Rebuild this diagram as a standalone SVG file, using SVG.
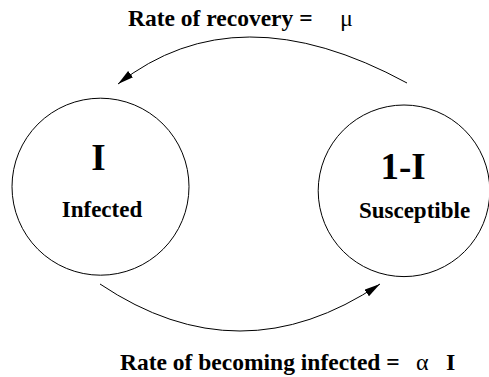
<svg xmlns="http://www.w3.org/2000/svg" width="489" height="377" viewBox="0 0 489 377">
<style>
.c{fill:none;stroke:#000;stroke-width:1}
text{font-family:'Liberation Serif','DejaVu Serif',Times,serif;fill:#000}
.t{font-weight:bold}
.s{font-weight:normal}
</style>
<defs>
<marker id="ah" markerUnits="userSpaceOnUse" markerWidth="18" markerHeight="10" refX="16" refY="4" orient="auto">
<path d="M0,0 L16,4 L0,8 z" fill="#000"/>
</marker>
</defs>
<rect width="489" height="377" fill="#fff"/>
<g id="connectors">
<path class="c" d="M407,83 Q237,-9.5 118,84" marker-end="url(#ah)"/>
<path class="c" d="M100,284 Q240,378 380,284" marker-end="url(#ah)"/>
</g>
<g id="infected">
<circle class="c" cx="100.5" cy="186.7" r="88.5"/>
<text class="t" x="98.5" y="170" font-size="37" text-anchor="middle">I</text>
<text class="t" x="102" y="217" font-size="23" text-anchor="middle">Infected</text>
</g>
<g id="susceptible">
<circle class="c" cx="404" cy="190.8" r="85.8"/>
<text class="t" x="403" y="179" font-size="37" text-anchor="middle">1-I</text>
<text class="t" x="414.5" y="217.5" font-size="23" text-anchor="middle">Susceptible</text>
</g>
<g id="labels">
<text class="t" x="128" y="26" font-size="23.5">Rate of recovery =</text>
<text class="s" x="340" y="26" font-size="24">μ</text>
<text class="t" x="120" y="369.5" font-size="23.5">Rate of becoming infected =</text>
<text class="s" x="416" y="369.5" font-size="24">α</text>
<text class="t" x="446" y="369.5" font-size="24">I</text>
</g>
</svg>
